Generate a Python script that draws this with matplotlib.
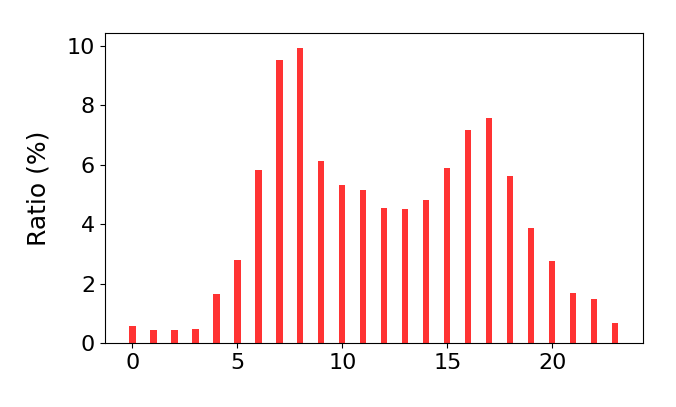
import matplotlib
matplotlib.use('Agg')
import matplotlib.pyplot as plt
import numpy as np

# hours 0..23 and the share of each (%)
hours = list(range(24))
ratio = [0.56, 0.43, 0.44, 0.46, 1.65, 2.81, 5.82, 9.52, 9.94, 6.14, 5.32, 5.16,
         4.55, 4.52, 4.83, 5.90, 7.16, 7.59, 5.64, 3.89, 2.77, 1.70, 1.47, 0.69]

fig = plt.figure(figsize=(6.76, 4.07), dpi=100)
ax = fig.add_axes([0.155, 0.157, 0.796, 0.762])
ax.bar(hours, ratio, width=0.3, color='red', alpha=0.8)
ax.set_ylabel('Ratio (%)', fontsize=18, labelpad=12)
ax.tick_params(labelsize=16)
ax.set_xticks([0, 5, 10, 15, 20])
ax.set_yticks([0, 2, 4, 6, 8, 10])

fig.savefig('out.png', dpi=100)
